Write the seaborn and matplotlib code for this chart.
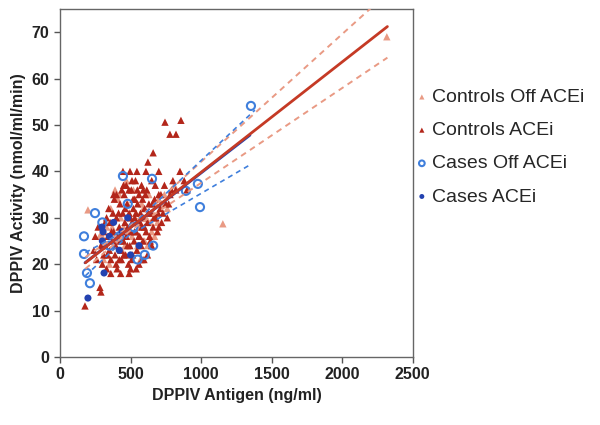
import numpy as np
import pandas as pd
import matplotlib
matplotlib.use("Agg")
import matplotlib.pyplot as plt
import seaborn as sns

# ---- data (x = antigen ng/ml, y = activity nmol/ml/min) ----
ctrl_acei_x = [177, 283, 290, 300, 310, 320, 330, 340, 350, 355, 360, 370, 375, 380, 390,
               395, 400, 405, 410, 420, 425, 430, 435, 440, 445, 450, 455, 460, 465, 470,
               475, 480, 485, 490, 495, 500, 505, 510, 515, 520, 525, 530, 535, 540, 545,
               550, 555, 560, 565, 570, 575, 580, 585, 590, 595, 600, 610, 615, 620, 630,
               640, 645, 650, 660, 670, 680, 690, 700, 710, 720, 740, 750, 760, 780, 800,
               820, 850, 623, 446, 496, 545, 609, 744, 857, 779, 822, 660, 240, 260, 500,
               560, 620, 430, 700, 880, 900, 380, 470, 530, 590,
               320, 335, 345, 365, 385, 398, 415, 428, 438, 452, 462, 478, 488, 498, 508,
               518, 528, 538, 548, 558, 568, 578, 588, 598, 605, 625, 635, 655, 665, 675,
               695, 715, 730, 770, 790, 400, 450, 510, 360, 420, 490, 540, 580, 650, 700,
               330, 310, 290, 270, 250]
ctrl_acei_y = [11, 15, 14, 20, 22, 24, 19, 26, 23, 29, 21, 25, 31, 27, 22,
               24, 30, 19, 26, 28, 33, 23, 21, 27, 31, 25, 35, 29, 22, 26,
               33, 28, 20, 31, 24, 27, 36, 29, 22, 32, 25, 30, 38, 27, 23,
               33, 29, 35, 26, 31, 24, 28, 34, 30, 21, 32, 27, 36, 29, 33,
               25, 31, 38, 28, 34, 30, 27, 35, 32, 29, 37, 33, 30, 35, 38,
               36, 40, 42, 40, 40, 40, 40, 50.6, 51, 48, 48, 44, 23, 21, 19,
               20, 22, 18, 40, 38, 36, 35, 37, 34, 36,
               29, 22, 32, 27, 34, 20, 31, 25, 36, 22, 32, 24, 36, 30, 21,
               34, 27, 31, 36, 26, 29, 37, 25, 28, 35, 31, 26, 33, 30, 37,
               31, 35, 31, 33, 36, 35, 37, 38, 18, 21, 18, 19, 21, 24, 28,
               30, 27, 24, 28, 26]

ctrl_off_x = [2316, 198, 1154, 330, 360, 400, 430, 460, 480, 510, 540, 570, 600, 630, 660,
              690, 720, 350, 420, 450, 500, 530, 560, 590, 620, 650, 680, 300, 390, 470,
              610, 760, 810, 340, 370, 410, 440, 490, 520, 550, 580, 640, 670, 700, 740,
              310, 280]
ctrl_off_y = [69, 31.7, 28.7, 28, 32, 25, 30, 24, 33, 26, 31, 21, 25, 35, 31,
              29, 33, 20, 35, 28, 30, 34, 28, 32, 24, 27, 33, 26, 36, 38,
              30, 32, 37, 22, 28, 34, 23, 27, 36, 24, 33, 29, 26, 34, 35,
              21, 26]

case_off_x = [170, 170, 191, 212, 248, 446, 652, 892, 977, 992, 1353, 600, 550, 350, 420,
              520, 300, 660, 480]
case_off_y = [26, 22.2, 18.1, 15.9, 31, 39, 38.4, 35.8, 37.3, 32.3, 54.1, 22, 21, 24, 26,
              28, 29, 24, 33]

case_acei_x = [198, 312, 297, 305, 300, 350, 420, 500, 480, 560, 380, 440]
case_acei_y = [12.7, 18.1, 28, 27, 25, 26, 23, 22, 30, 24, 29, 27]

# regression lines and dashed confidence limits
ctrl_fit_x = [180, 2320]
ctrl_fit_y = [20.3, 71.2]
ctrl_hi_x = [180, 500, 2320]
ctrl_hi_y = [21.5, 28.3, 78.4]
ctrl_lo_x = [180, 500, 2320]
ctrl_lo_y = [19.0, 27.3, 64.5]

case_fit_x = [177, 1346]
case_fit_y = [20.3, 47.8]
case_hi_x = [180, 480, 1381]
case_hi_y = [22.5, 27.5, 53.2]
case_lo_x = [180, 480, 1346]
case_lo_y = [17.5, 26.0, 41.4]

c_off = "#e99a84"
c_ctrl = "#b3261a"
c_case_off = "#3f7fdc"
c_case = "#2342b0"

sns.set_style("ticks")
plt.rcParams["font.family"] = ["Liberation Sans", "DejaVu Sans"]

fig = plt.figure(figsize=(6, 4.25), dpi=100)
ax = fig.add_axes([0.1, 0.16, 0.588, 0.819])

sns.scatterplot(x=ctrl_off_x, y=ctrl_off_y, marker="^", s=28, color=c_off,
                edgecolor="none", ax=ax, label="Controls Off ACEi", zorder=2)
sns.scatterplot(x=ctrl_acei_x, y=ctrl_acei_y, marker="^", s=28, color=c_ctrl,
                edgecolor="none", ax=ax, label="Controls ACEi", zorder=2)
sns.scatterplot(x=case_off_x, y=case_off_y, marker="o", s=34, facecolors="none",
                edgecolor=c_case_off, linewidth=1.5, ax=ax, label="Cases Off ACEi", zorder=3)
sns.scatterplot(x=case_acei_x, y=case_acei_y, marker="o", s=26, color=c_case,
                edgecolor="none", ax=ax, label="Cases ACEi", zorder=3)

ax.plot(ctrl_hi_x, ctrl_hi_y, ls=(0, (3, 2.5)), color=c_off, lw=1.4, zorder=4)
ax.plot(ctrl_lo_x, ctrl_lo_y, ls=(0, (3, 2.5)), color=c_off, lw=1.4, zorder=4)
ax.plot(case_hi_x, case_hi_y, ls=(0, (3, 2.5)), color=c_case_off, lw=1.2, zorder=4)
ax.plot(case_lo_x, case_lo_y, ls=(0, (3, 2.5)), color=c_case_off, lw=1.2, zorder=4)
ax.plot(case_fit_x, case_fit_y, color=c_case, lw=2, zorder=5)
ax.plot(ctrl_fit_x, ctrl_fit_y, color="#c53a25", lw=2, zorder=5)

ax.set_xlim(0, 2500)
ax.set_ylim(0, 75)
ax.set_xticks([0, 500, 1000, 1500, 2000, 2500])
ax.set_yticks([0, 10, 20, 30, 40, 50, 60, 70])
ax.tick_params(labelsize=11.5, width=1, length=4, color="#555555")
for lab in ax.get_xticklabels() + ax.get_yticklabels():
    lab.set_fontweight("bold")
    lab.set_color("#222222")
for sp in ax.spines.values():
    sp.set_color("#666666")
    sp.set_linewidth(1)
ax.set_xlabel("DPPIV Antigen (ng/ml)", fontsize=11.5, fontweight="bold", color="#222222")
ax.set_ylabel("DPPIV Activity (nmol/ml/min)", fontsize=11.5, fontweight="bold", color="#222222")

ax.legend(loc="upper left", bbox_to_anchor=(0.965, 0.805), frameon=False, fontsize=14,
          handletextpad=0.0, labelspacing=0.8, markerscale=0.7, handlelength=1.0,
          borderaxespad=0.2)

fig.savefig("out.png", dpi=100)
